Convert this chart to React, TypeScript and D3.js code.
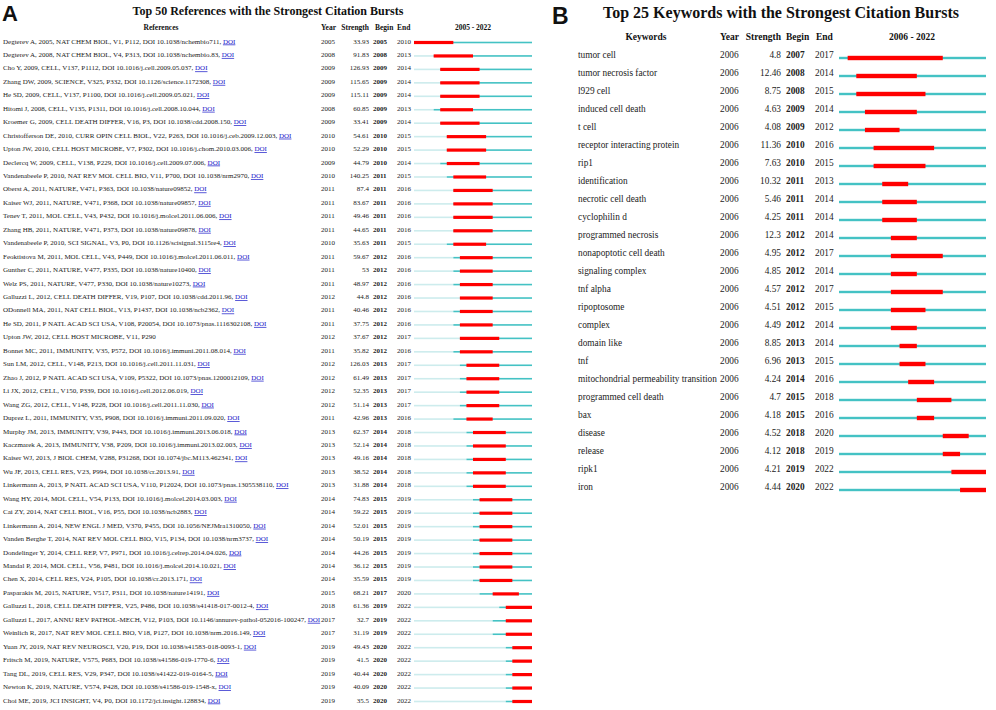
import React from "react";
import * as d3 from "d3";

// ---------- Panel A data ----------
const refTexts = [
  "Degterev A, 2005, NAT CHEM BIOL, V1, P112, DOI 10.1038/nchembio711, ",
  "Degterev A, 2008, NAT CHEM BIOL, V4, P313, DOI 10.1038/nchembio.83, ",
  "Cho Y, 2009, CELL, V137, P1112, DOI 10.1016/j.cell.2009.05.037, ",
  "Zhang DW, 2009, SCIENCE, V325, P332, DOI 10.1126/science.1172308, ",
  "He SD, 2009, CELL, V137, P1100, DOI 10.1016/j.cell.2009.05.021, ",
  "Hitomi J, 2008, CELL, V135, P1311, DOI 10.1016/j.cell.2008.10.044, ",
  "Kroemer G, 2009, CELL DEATH DIFFER, V16, P3, DOI 10.1038/cdd.2008.150, ",
  "Christofferson DE, 2010, CURR OPIN CELL BIOL, V22, P263, DOI 10.1016/j.ceb.2009.12.003, ",
  "Upton JW, 2010, CELL HOST MICROBE, V7, P302, DOI 10.1016/j.chom.2010.03.006, ",
  "Declercq W, 2009, CELL, V138, P229, DOI 10.1016/j.cell.2009.07.006, ",
  "Vandenabeele P, 2010, NAT REV MOL CELL BIO, V11, P700, DOI 10.1038/nrm2970, ",
  "Oberst A, 2011, NATURE, V471, P363, DOI 10.1038/nature09852, ",
  "Kaiser WJ, 2011, NATURE, V471, P368, DOI 10.1038/nature09857, ",
  "Tenev T, 2011, MOL CELL, V43, P432, DOI 10.1016/j.molcel.2011.06.006, ",
  "Zhang HB, 2011, NATURE, V471, P373, DOI 10.1038/nature09878, ",
  "Vandenabeele P, 2010, SCI SIGNAL, V3, P0, DOI 10.1126/scisignal.3115re4, ",
  "Feoktistova M, 2011, MOL CELL, V43, P449, DOI 10.1016/j.molcel.2011.06.011, ",
  "Gunther C, 2011, NATURE, V477, P335, DOI 10.1038/nature10400, ",
  "Welz PS, 2011, NATURE, V477, P330, DOI 10.1038/nature10273, ",
  "Galluzzi L, 2012, CELL DEATH DIFFER, V19, P107, DOI 10.1038/cdd.2011.96, ",
  "ODonnell MA, 2011, NAT CELL BIOL, V13, P1437, DOI 10.1038/ncb2362, ",
  "He SD, 2011, P NATL ACAD SCI USA, V108, P20054, DOI 10.1073/pnas.1116302108, ",
  "Upton JW, 2012, CELL HOST MICROBE, V11, P290",
  "Bonnet MC, 2011, IMMUNITY, V35, P572, DOI 10.1016/j.immuni.2011.08.014, ",
  "Sun LM, 2012, CELL, V148, P213, DOI 10.1016/j.cell.2011.11.031, ",
  "Zhao J, 2012, P NATL ACAD SCI USA, V109, P5322, DOI 10.1073/pnas.1200012109, ",
  "Li JX, 2012, CELL, V150, P339, DOI 10.1016/j.cell.2012.06.019, ",
  "Wang ZG, 2012, CELL, V148, P228, DOI 10.1016/j.cell.2011.11.030, ",
  "Duprez L, 2011, IMMUNITY, V35, P908, DOI 10.1016/j.immuni.2011.09.020, ",
  "Murphy JM, 2013, IMMUNITY, V39, P443, DOI 10.1016/j.immuni.2013.06.018, ",
  "Kaczmarek A, 2013, IMMUNITY, V38, P209, DOI 10.1016/j.immuni.2013.02.003, ",
  "Kaiser WJ, 2013, J BIOL CHEM, V288, P31268, DOI 10.1074/jbc.M113.462341, ",
  "Wu JF, 2013, CELL RES, V23, P994, DOI 10.1038/cr.2013.91, ",
  "Linkermann A, 2013, P NATL ACAD SCI USA, V110, P12024, DOI 10.1073/pnas.1305538110, ",
  "Wang HY, 2014, MOL CELL, V54, P133, DOI 10.1016/j.molcel.2014.03.003, ",
  "Cai ZY, 2014, NAT CELL BIOL, V16, P55, DOI 10.1038/ncb2883, ",
  "Linkermann A, 2014, NEW ENGL J MED, V370, P455, DOI 10.1056/NEJMra1310050, ",
  "Vanden Berghe T, 2014, NAT REV MOL CELL BIO, V15, P134, DOI 10.1038/nrm3737, ",
  "Dondelinger Y, 2014, CELL REP, V7, P971, DOI 10.1016/j.celrep.2014.04.026, ",
  "Mandal P, 2014, MOL CELL, V56, P481, DOI 10.1016/j.molcel.2014.10.021, ",
  "Chen X, 2014, CELL RES, V24, P105, DOI 10.1038/cr.2013.171, ",
  "Pasparakis M, 2015, NATURE, V517, P311, DOI 10.1038/nature14191, ",
  "Galluzzi L, 2018, CELL DEATH DIFFER, V25, P486, DOI 10.1038/s41418-017-0012-4, ",
  "Galluzzi L, 2017, ANNU REV PATHOL-MECH, V12, P103, DOI 10.1146/annurev-pathol-052016-100247, ",
  "Weinlich R, 2017, NAT REV MOL CELL BIO, V18, P127, DOI 10.1038/nrm.2016.149, ",
  "Yuan JY, 2019, NAT REV NEUROSCI, V20, P19, DOI 10.1038/s41583-018-0093-1, ",
  "Fritsch M, 2019, NATURE, V575, P683, DOI 10.1038/s41586-019-1770-6, ",
  "Tang DL, 2019, CELL RES, V29, P347, DOI 10.1038/s41422-019-0164-5, ",
  "Newton K, 2019, NATURE, V574, P428, DOI 10.1038/s41586-019-1548-x, ",
  "Choi ME, 2019, JCI INSIGHT, V4, P0, DOI 10.1172/jci.insight.128834, ",
];
const refHasDoi = refTexts.map((t) => t.includes("DOI "));
const refYears = [
  2005, 2008, 2009, 2009, 2009, 2008, 2009, 2010, 2010, 2009,
  2010, 2011, 2011, 2011, 2011, 2010, 2011, 2011, 2011, 2012,
  2011, 2011, 2012, 2011, 2012, 2012, 2012, 2012, 2011, 2013,
  2013, 2013, 2013, 2013, 2014, 2014, 2014, 2014, 2014, 2014,
  2014, 2015, 2018, 2017, 2017, 2019, 2019, 2019, 2019, 2019,
];
const refStrengths = [
  "33.93", "91.83", "126.93", "115.65", "115.11", "60.85", "33.41", "54.61", "52.29", "44.79",
  "140.25", "87.4", "83.67", "49.46", "44.65", "35.63", "59.67", "53", "48.97", "44.8",
  "40.46", "37.75", "37.67", "35.82", "126.03", "61.49", "52.35", "51.14", "42.96", "62.37",
  "52.14", "49.16", "38.52", "31.88", "74.83", "59.22", "52.01", "50.19", "44.26", "36.12",
  "35.59", "68.21", "61.36", "32.7", "31.19", "49.43", "41.5", "40.44", "40.09", "35.5",
];
const refBegins = [
  2005, 2008, 2009, 2009, 2009, 2009, 2009, 2010, 2010, 2010,
  2011, 2011, 2011, 2011, 2011, 2011, 2012, 2012, 2012, 2012,
  2012, 2012, 2012, 2012, 2013, 2013, 2013, 2013, 2013, 2014,
  2014, 2014, 2014, 2014, 2015, 2015, 2015, 2015, 2015, 2015,
  2015, 2017, 2019, 2019, 2019, 2020, 2020, 2020, 2020, 2020,
];
const refEnds = [
  2010, 2013, 2014, 2014, 2014, 2013, 2014, 2015, 2015, 2014,
  2015, 2016, 2016, 2016, 2016, 2015, 2016, 2016, 2016, 2016,
  2016, 2016, 2017, 2016, 2017, 2017, 2017, 2017, 2016, 2018,
  2018, 2018, 2018, 2018, 2019, 2019, 2019, 2019, 2019, 2019,
  2019, 2020, 2022, 2022, 2022, 2022, 2022, 2022, 2022, 2022,
];
const rangeA = [2005, 2022];

// ---------- Panel B data ----------
const keywords = [
  "tumor cell", "tumor necrosis factor", "l929 cell", "induced cell death", "t cell",
  "receptor interacting protein", "rip1", "identification", "necrotic cell death", "cyclophilin d",
  "programmed necrosis", "nonapoptotic cell death", "signaling complex", "tnf alpha", "ripoptosome",
  "complex", "domain like", "tnf", "mitochondrial permeability transition", "programmed cell death",
  "bax", "disease", "release", "ripk1", "iron",
];
const kwYears = Array(25).fill(2006);
const kwStrengths = [
  "4.8", "12.46", "8.75", "4.63", "4.08", "11.36", "7.63", "10.32", "5.46", "4.25",
  "12.3", "4.95", "4.85", "4.57", "4.51", "4.49", "8.85", "6.96", "4.24", "4.7",
  "4.18", "4.52", "4.12", "4.21", "4.44",
];
const kwBegins = [
  2007, 2008, 2008, 2009, 2009, 2010, 2010, 2011, 2011, 2011,
  2012, 2012, 2012, 2012, 2012, 2012, 2013, 2013, 2014, 2015,
  2015, 2018, 2018, 2019, 2020,
];
const kwEnds = [
  2017, 2014, 2015, 2014, 2012, 2016, 2015, 2013, 2014, 2014,
  2014, 2017, 2014, 2017, 2015, 2014, 2014, 2015, 2016, 2018,
  2016, 2020, 2019, 2022, 2022,
];
const rangeB = [2006, 2022];

const SERIF = "'Liberation Serif', 'Times New Roman', Times, serif";
const SANS = "'Liberation Sans', Arial, Helvetica, sans-serif";
const TEAL = "#44c2c4";
const LIGHT = "#cdeced";
const RED = "#ff0000";
const TXT = "#222";
const LINK = "#1515c8";

export default function App() {
  // Panel A scales
  const xA = d3.scaleLinear().domain([rangeA[0], rangeA[1] + 1]).range([414, 532]);
  const yA = d3.scalePoint<number>().domain(d3.range(refTexts.length)).range([41, 700]);
  // Panel B scales
  const xB = d3.scaleLinear().domain([rangeB[0], rangeB[1] + 1]).range([839, 986]);
  const yB = d3.scalePoint<number>().domain(d3.range(keywords.length)).range([55, 487]);

  const fsA = 7;
  const fsB = 9.3;

  return (
    <svg
      width={996}
      height={710}
      style={{ position: "absolute", left: 0, top: 0, background: "#fff" }}
      fontFamily={SERIF}
    >
      <rect x={0} y={0} width={996} height={710} fill="#fff" />
      {/* ===== Panel A ===== */}
      <text x={2} y={21} fontFamily={SANS} fontWeight="bold" fontSize={22} fill="#111">A</text>
      <text x={268} y={15} textAnchor="middle" fontWeight="bold" fontSize={12} fill="#111">
        Top 50 References with the Strongest Citation Bursts
      </text>
      <g fontWeight="bold" fontSize={7.5} fill="#111">
        <text x={161} y={30} textAnchor="middle">References</text>
        <text x={321} y={30}>Year</text>
        <text x={369} y={30} textAnchor="end">Strength</text>
        <text x={375} y={30}>Begin</text>
        <text x={397} y={30}>End</text>
        <text x={473} y={30} textAnchor="middle">{`${rangeA[0]} - ${rangeA[1]}`}</text>
      </g>
      {refTexts.map((t, i) => {
        const cy = yA(i)!;
        const by = cy + 1.5;
        return (
          <g key={"a" + i} fontSize={fsA} fill={TXT}>
            <text x={3} y={cy + 2.5}>
              {t}
              {refHasDoi[i] && (
                <tspan fill={LINK} textDecoration="underline">DOI</tspan>
              )}
            </text>
            <text x={321} y={cy + 2.5}>{refYears[i]}</text>
            <text x={369} y={cy + 2.5} textAnchor="end">{refStrengths[i]}</text>
            <text x={373} y={cy + 2.5} fontWeight="bold">{refBegins[i]}</text>
            <text x={397} y={cy + 2.5}>{refEnds[i]}</text>
            <rect x={xA(rangeA[0])} y={by - 0.8} width={xA(refYears[i]) - xA(rangeA[0])} height={1.6} fill={LIGHT} />
            <rect x={xA(refYears[i])} y={by - 0.8} width={xA(rangeA[1] + 1) - xA(refYears[i])} height={1.6} fill={TEAL} />
            <rect x={xA(refBegins[i])} y={by - 1.6} width={xA(refEnds[i] + 1) - xA(refBegins[i])} height={3.2} fill={RED} />
          </g>
        );
      })}

      {/* ===== Panel B ===== */}
      <text x={552} y={24} fontFamily={SANS} fontWeight="bold" fontSize={23} fill="#111">B</text>
      <text x={781} y={17.5} textAnchor="middle" fontWeight="bold" fontSize={16} fill="#111">
        Top 25 Keywords with the Strongest Citation Bursts
      </text>
      <g fontWeight="bold" fontSize={9.5} fill="#111">
        <text x={646} y={40} textAnchor="middle">Keywords</text>
        <text x={720} y={40}>Year</text>
        <text x={781} y={40} textAnchor="end">Strength</text>
        <text x={786} y={40}>Begin</text>
        <text x={816} y={40}>End</text>
        <text x={912} y={40} textAnchor="middle">{`${rangeB[0]} - ${rangeB[1]}`}</text>
      </g>
      {keywords.map((k, i) => {
        const cy = yB(i)!;
        const by = cy + 3;
        return (
          <g key={"b" + i} fontSize={fsB} fill={TXT}>
            <text x={578} y={cy + 3.4}>{k}</text>
            <text x={720} y={cy + 3.4}>{kwYears[i]}</text>
            <text x={781} y={cy + 3.4} textAnchor="end">{kwStrengths[i]}</text>
            <text x={786} y={cy + 3.4} fontWeight="bold">{kwBegins[i]}</text>
            <text x={815} y={cy + 3.4}>{kwEnds[i]}</text>
            <rect x={xB(rangeB[0])} y={by - 1.2} width={xB(kwYears[i]) - xB(rangeB[0])} height={2.4} fill={LIGHT} />
            <rect x={xB(kwYears[i])} y={by - 1.2} width={xB(rangeB[1] + 1) - xB(kwYears[i])} height={2.4} fill={TEAL} />
            <rect x={xB(kwBegins[i])} y={by - 2.2} width={xB(kwEnds[i] + 1) - xB(kwBegins[i])} height={4.4} fill={RED} />
          </g>
        );
      })}
    </svg>
  );
}
